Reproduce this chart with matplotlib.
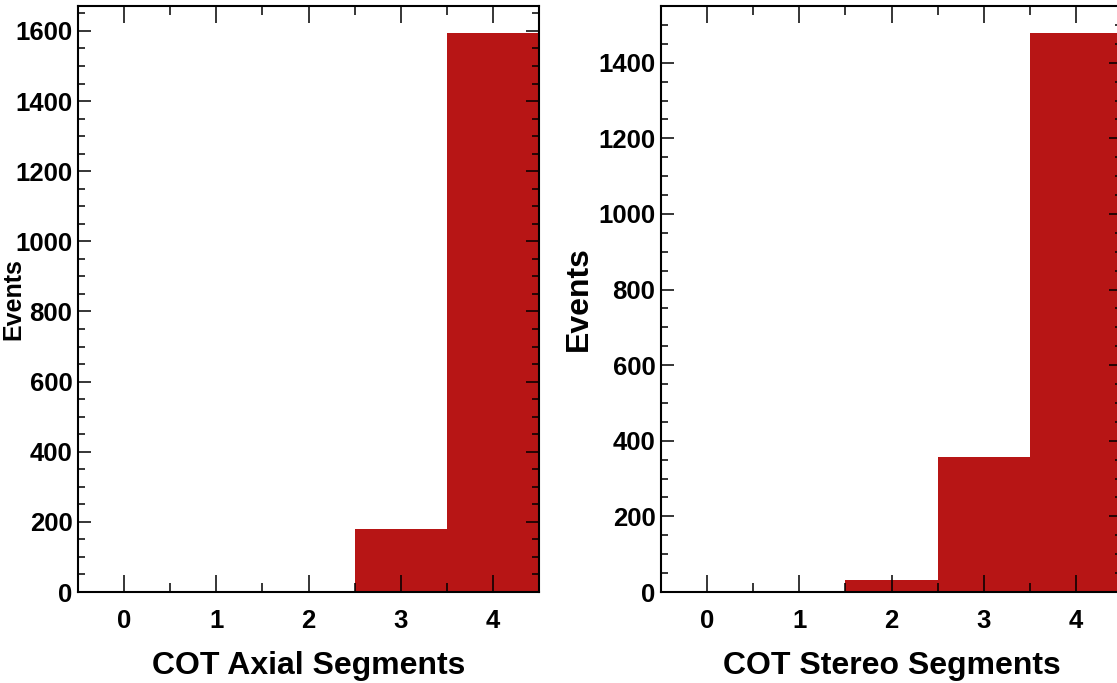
import matplotlib
matplotlib.use("Agg")
import matplotlib.pyplot as plt
from matplotlib.ticker import MultipleLocator

segments = [0, 1, 2, 3, 4]
axial_events = [0, 0, 0, 180, 1593]
stereo_events = [0, 0, 31, 356, 1478]
tick_labels = ["0", "1", "2", "3", "4"]

plt.rcParams['font.family'] = ['Liberation Sans', 'DejaVu Sans']
plt.rcParams['font.weight'] = 'bold'

W, H = 1117, 683
fig = plt.figure(figsize=(W / 100, H / 100), dpi=100)

bar_color = '#B71515'

def make_panel(rect, values, ymax, xlabel, ylab_size, ylab_x):
    ax = fig.add_axes(rect)
    ax.bar(segments, values, width=1.0, color=bar_color, edgecolor='none', linewidth=0)
    ax.set_xlim(-0.5, 4.5)
    ax.set_ylim(0, ymax)
    ax.set_xticks(segments)
    ax.set_xticklabels(tick_labels)
    ax.xaxis.set_minor_locator(MultipleLocator(0.5))
    ax.yaxis.set_major_locator(MultipleLocator(200))
    ax.yaxis.set_minor_locator(MultipleLocator(50))
    ax.tick_params(axis='both', which='both', direction='in', top=True, right=True,
                   width=1.1, labelsize=18.5)
    ax.tick_params(axis='x', which='major', length=12, pad=12)
    ax.tick_params(axis='x', which='minor', length=6.5)
    ax.tick_params(axis='y', which='major', length=9.5, pad=4)
    ax.tick_params(axis='y', which='minor', length=5)
    for lab in ax.get_xticklabels() + ax.get_yticklabels():
        lab.set_fontweight('bold')
    for s in ax.spines.values():
        s.set_linewidth(1.5)
    ax.set_xlabel(xlabel, fontsize=23, fontweight='bold', labelpad=13)
    ax.set_ylabel("Events", fontsize=ylab_size, fontweight='bold')
    ax.yaxis.set_label_coords(ylab_x, 0.5)
    return ax

# pixel geometry
def rect(x0, x1, y0, y1):
    return [x0 / W, 1 - y1 / H, (x1 - x0) / W, (y1 - y0) / H]

ax1 = make_panel(rect(78, 539, 6, 592), axial_events, 1671, "COT Axial Segments", 18, (25 - 78) / (539 - 78))
ax2 = make_panel(rect(661, 1122, 6, 592), stereo_events, 1550, "COT Stereo Segments", 23, (594 - 661) / (1122 - 661))

fig.savefig("out.png", dpi=100)
